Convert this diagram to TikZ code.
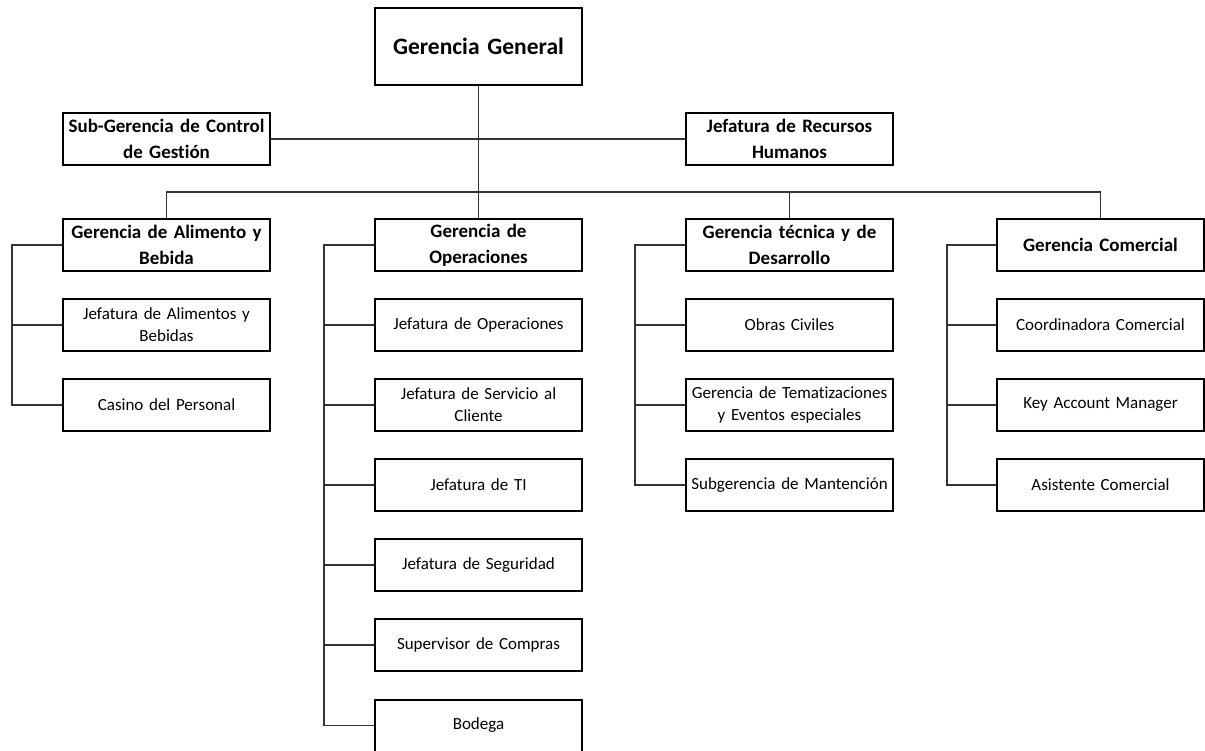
\documentclass[tikz,border=0pt]{standalone}
\usepackage{fontspec}
\setmainfont{Carlito}[RawFeature=-liga]
\begin{document}
\begin{tikzpicture}[x=1pt,y=-1pt,
  box/.style={draw=black,line width=2pt,fill=white,minimum width=207pt,minimum height=52pt,
    inner sep=0.5pt,align=center,text width=205pt,font=\fontsize{17}{22}\selectfont},
  head/.style={box,font=\bfseries\fontsize{19}{26}\selectfont},
  top/.style={box,minimum height=77pt,font=\bfseries\fontsize{23.5}{28}\selectfont},
  link/.style={draw=black!80,line width=1.1pt}]
\useasboundingbox (0,0) rectangle (1205,750);

\coordinate (busY) at (0,192);

% top of the chart
\node[top]  (gg)   at (478.5,46.5) {Gerencia General};
\node[head] (ctrl) at (166.5,139) {Sub-Gerencia de Control\\de Gestión};
\node[head] (rrhh) at (789.5,139) {Jefatura de Recursos\\Humanos};

% second level
\node[head] (alim) at (166.5,245) {Gerencia de Alimento y\\Bebida};
\node[head] (oper) at (478.5,245) {Gerencia de\\Operaciones};
\node[head] (tec)  at (789.5,245) {Gerencia técnica y de\\Desarrollo};
\node[head] (com)  at (1100.5,245) {Gerencia Comercial};

% Alimento y Bebida
\node[box] (a1) at (166.5,325) {Jefatura de Alimentos y\\Bebidas};
\node[box] (a2) at (166.5,405) {Casino del Personal};

% Operaciones
\node[box] (o1) at (478.5,325) {Jefatura de Operaciones};
\node[box] (o2) at (478.5,405) {Jefatura de Servicio al\\Cliente};
\node[box] (o3) at (478.5,485) {Jefatura de TI};
\node[box] (o4) at (478.5,565) {Jefatura de Seguridad};
\node[box] (o5) at (478.5,645) {Supervisor de Compras};
\node[box] (o6) at (478.5,725.5) {Bodega};

% Técnica y Desarrollo
\node[box] (t1) at (789.5,325) {Obras Civiles};
\node[box] (t2) at (789.5,405) {Gerencia de Tematizaciones\\y Eventos especiales};
\node[box] (t3) at (789.5,485) {Subgerencia de Mantención};

% Comercial
\node[box] (c1) at (1100.5,325) {Coordinadora Comercial};
\node[box] (c2) at (1100.5,405) {Key Account Manager};
\node[box] (c3) at (1100.5,485) {Asistente Comercial};

% side rails of each column
\coordinate (aL) at (12,245);
\coordinate (oL) at (324,245);
\coordinate (tL) at (635,245);
\coordinate (cL) at (947,245);

% hierarchy lines
\draw[link] (gg.south) -- (oper.north);
\draw[link] (ctrl.east) -- (rrhh.west);
\draw[link] (alim.north) -- (alim.north |- busY) -| (com.north);
\draw[link] (tec.north) -- (tec.north |- busY);

\draw[link] (alim.west) -- (aL) |- (a2.west);
\draw[link] (aL |- a1.west) -- (a1.west);

\draw[link] (oper.west) -- (oL) |- (o6.west);
\foreach \n in {o1,o2,o3,o4,o5}
  \draw[link] (oL |- \n.west) -- (\n.west);

\draw[link] (tec.west) -- (tL) |- (t3.west);
\foreach \n in {t1,t2}
  \draw[link] (tL |- \n.west) -- (\n.west);

\draw[link] (com.west) -- (cL) |- (c3.west);
\foreach \n in {c1,c2}
  \draw[link] (cL |- \n.west) -- (\n.west);
\end{tikzpicture}
\end{document}
